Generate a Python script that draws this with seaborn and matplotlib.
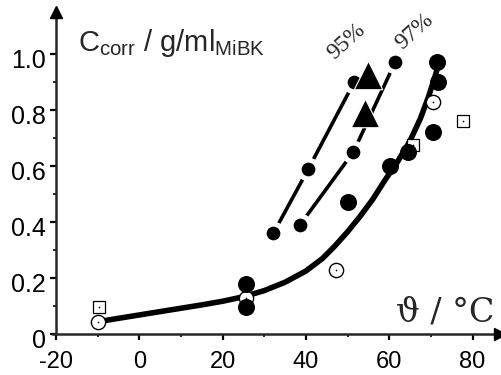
import matplotlib
matplotlib.use("Agg")
import matplotlib.pyplot as plt
import matplotlib.transforms as mtrans
import seaborn as sns
import numpy as np
import pandas as pd

# ---- data ----
fit_x = [-9.5, -5, 0, 5, 10, 15, 20, 25, 30, 35, 40, 44, 47, 50, 53, 56, 59, 62, 65, 67.5, 69.5, 71, 72]
fit_y = [0.045, 0.056, 0.068, 0.08, 0.092, 0.104, 0.117, 0.133, 0.155, 0.185, 0.225, 0.27,
         0.315, 0.365, 0.42, 0.48, 0.55, 0.615, 0.69, 0.77, 0.85, 0.92, 0.97]

filled_x = [25.5, 25.5, 50.2, 60.2, 64.6, 70.5, 71.8, 71.5]
filled_y = [0.18, 0.097, 0.47, 0.60, 0.65, 0.72, 0.90, 0.97]

open_x = [-9.8, 25.5, 47.3, 70.5]
open_y = [0.043, 0.13, 0.23, 0.83]

square_x = [-9.6, 65.8, 77.6]
square_y = [0.097, 0.675, 0.76]

p95_x = [32.2, 40.6, 51.6]
p95_y = [0.36, 0.59, 0.90]
p97_x = [38.6, 51.4, 61.4]
p97_y = [0.39, 0.65, 0.97]

tri_x = [55.0, 54.2]
tri_y = [0.925, 0.79]

x_ticks = [-20, 0, 20, 40, 60, 80]
y_ticks = [0, 0.2, 0.4, 0.6, 0.8, 1.0]
y_ticklabels = ["0", "0.2", "0.4", "0.6", "0.8", "1.0"]

# ---- style ----
sns.set_style("ticks")
plt.rcParams['font.family'] = ['Liberation Sans', 'DejaVu Sans']
plt.rcParams['mathtext.fontset'] = 'custom'
plt.rcParams['mathtext.rm'] = 'Liberation Sans'

fig = plt.figure(figsize=(5.01, 3.75), dpi=100)
ax = fig.add_axes([56 / 501, 41 / 375, 444 / 501, 322 / 375])
ax.set_xlim(-20, 86.6)
ax.set_ylim(0, 1.15)

fit_df = pd.DataFrame({"x": fit_x, "y": fit_y})
sns.lineplot(data=fit_df, x="x", y="y", ax=ax, color="black", lw=4.0,
             sort=False, zorder=2)

sns.scatterplot(x=square_x, y=square_y, ax=ax, marker="s", s=80,
                facecolor="white", edgecolor="black", linewidth=0.9, zorder=3)
sns.scatterplot(x=square_x, y=square_y, ax=ax, marker="o", s=1.5,
                color="black", linewidth=0, zorder=3.1)
sns.scatterplot(x=open_x, y=open_y, ax=ax, marker="o", s=105,
                facecolor="white", edgecolor="black", linewidth=1.0, zorder=4)
sns.scatterplot(x=open_x, y=open_y, ax=ax, marker="o", s=1.5,
                color="black", linewidth=0, zorder=4.1)
sns.scatterplot(x=filled_x, y=filled_y, ax=ax, marker="o", s=150,
                color="black", linewidth=0, zorder=5)

for xs, ys in [(p95_x, p95_y), (p97_x, p97_y)]:
    df = pd.DataFrame({"x": xs, "y": ys})
    sns.lineplot(data=df, x="x", y="y", ax=ax, color="black", lw=2.6,
                 marker="o", markersize=13.5, markerfacecolor="black",
                 markeredgecolor="white", markeredgewidth=3.6,
                 sort=False, zorder=6)

sns.scatterplot(x=tri_x, y=tri_y, ax=ax, marker="^", s=420, color="black",
                edgecolor="white", linewidth=0.8, zorder=7)

# ---- axes ----
for s in ["top", "right"]:
    ax.spines[s].set_visible(False)
for s in ["left", "bottom"]:
    ax.spines[s].set_linewidth(1.8)
ax.spines["bottom"].set_bounds(-20.8, 86.6)

ax.set_xticks(x_ticks)
ax.set_xticklabels([str(v) for v in x_ticks])
ax.set_yticks(y_ticks)
ax.set_yticklabels(y_ticklabels)
ax.set_xticks(np.arange(-10, 81, 20), minor=True)
ax.set_yticks(np.arange(0.1, 1.01, 0.2), minor=True)
ax.tick_params(which="major", direction="out", length=4.5, width=1.6,
               labelsize=18, colors="black")
ax.tick_params(axis="x", which="major", pad=8, labelsize=17)
ax.tick_params(axis="y", which="major", pad=3)
ax.tick_params(which="minor", direction="out", length=2, width=1.4)

offset = mtrans.ScaledTranslation(0, -0.045, fig.dpi_scale_trans)
for lab in ax.get_yticklabels():
    lab.set_transform(lab.get_transform() + offset)

ax.set_xlabel("")
ax.set_ylabel("")

# arrows
ax.plot(1, 0, ">", color="black", markersize=8, transform=ax.transAxes,
        clip_on=False, zorder=10)
ax.plot(0, 1, "^", color="black", markersize=8, transform=ax.transAxes,
        clip_on=False, zorder=10)

# labels
ax.text(-14.6, 1.012, r"C$_\mathregular{corr}$ / g/ml$_\mathregular{MiBK}$",
        fontsize=21, ha="left", va="baseline")
ax.text(85.2, 0.043, "\u03d1 / °C", fontsize=24, ha="right", va="baseline",
        family=['DejaVu Serif'])
ax.text(49.7, 1.046, "95%", fontsize=17, rotation=42, ha="center",
        va="center", family=['Liberation Serif'], rotation_mode="anchor")
ax.text(66.0, 1.082, "97%", fontsize=17, rotation=42, ha="center",
        va="center", family=['Liberation Serif'], rotation_mode="anchor")

fig.savefig("out.png", dpi=100)
